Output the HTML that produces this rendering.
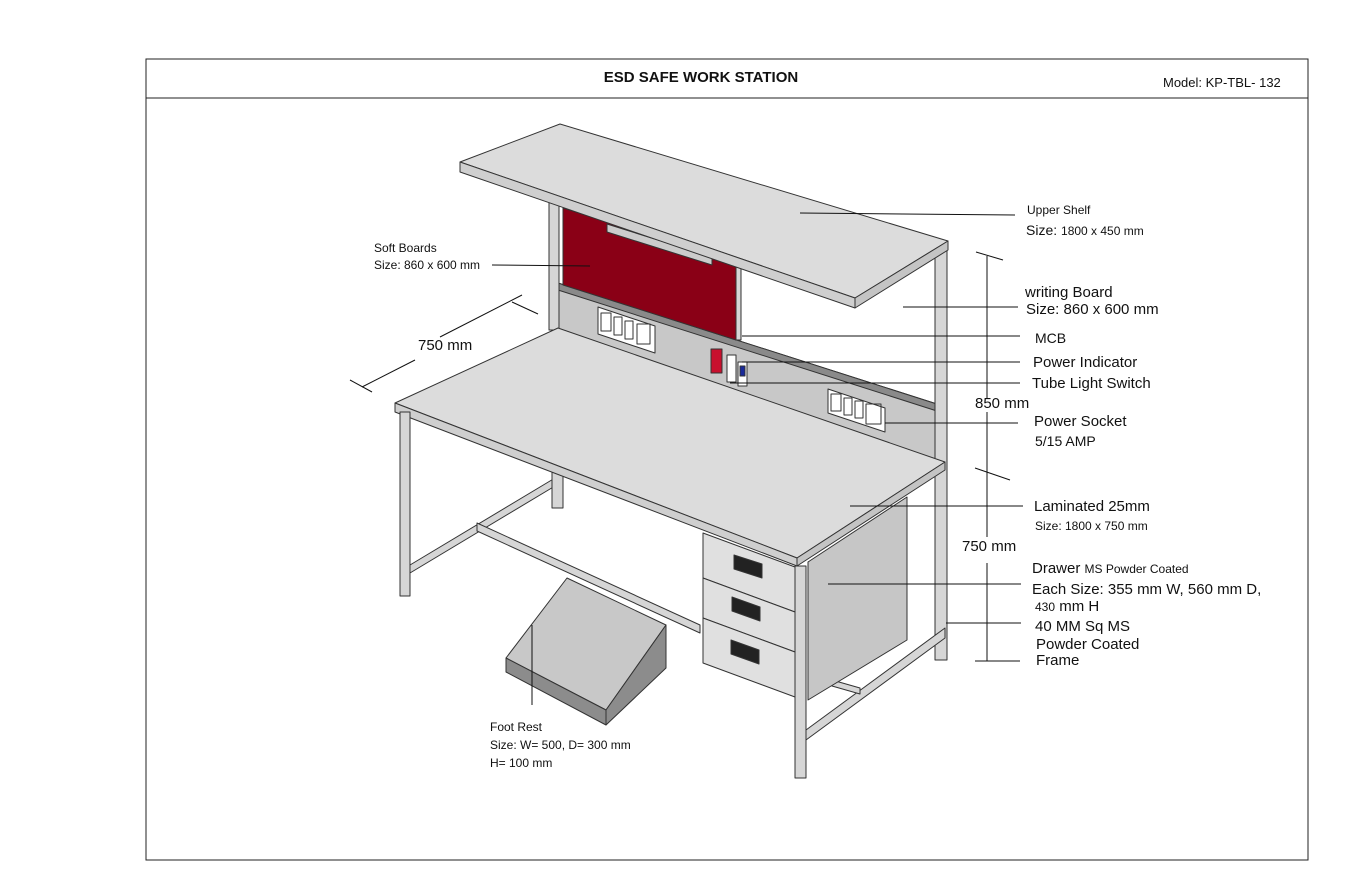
<!DOCTYPE html>
<html><head><meta charset="utf-8"><style>
html,body{margin:0;padding:0;background:#fff;}
svg{display:block;}
text{font-family:"Liberation Sans",sans-serif;fill:#111;}
</style></head><body>
<svg width="1360" height="884" viewBox="0 0 1360 884" xmlns="http://www.w3.org/2000/svg">
<rect x="146" y="59" width="1162" height="801" fill="#fff" stroke="#222" stroke-width="1"/>
<line x1="146" y1="98" x2="1308" y2="98" stroke="#222"/>
<text x="701" y="82" font-size="15" font-weight="bold" text-anchor="middle">ESD SAFE WORK STATION</text>
<text x="1163" y="87" font-size="13">Model: KP-TBL- 132</text>

<g stroke="#333" stroke-width="1" stroke-linejoin="round">
<polygon points="558,283 940,405 940,462 558,330" fill="#c8c8c8"/>
<polygon points="558,283 940,405 940,412 558,290" fill="#8a8a8a"/>
<polygon points="563,208 736,262 736,340 563,285" fill="#8a0016"/>
<polygon points="607,224 712,257 712,265 607,232" fill="#ccc"/>
<rect x="549" y="200" width="10" height="130" fill="#d6d6d6"/>
<rect x="736" y="255" width="5" height="85" fill="#d6d6d6"/>
<rect x="935" y="250" width="12" height="410" fill="#d6d6d6"/>
<polygon points="598,307 655,326 655,353 598,334" fill="#fff"/>
<polygon points="828,389 885,408 885,432 828,413" fill="#fff"/>
<g fill="none" stroke="#333">
<rect x="601" y="313" width="10" height="18"/><rect x="614" y="317" width="8" height="18"/><rect x="625" y="321" width="8" height="18"/><rect x="637" y="324" width="13" height="20"/>
<rect x="831" y="394" width="10" height="17"/><rect x="844" y="398" width="8" height="17"/><rect x="855" y="401" width="8" height="17"/><rect x="866" y="404" width="15" height="20"/>
</g>
<rect x="711" y="349" width="11" height="24" fill="#c8102e"/>
<rect x="727" y="355" width="9" height="27" fill="#fff"/>
<rect x="738" y="362" width="9" height="24" fill="#fff"/>
<rect x="740" y="366" width="5" height="10" fill="#1a2a9a"/>
<polygon points="460,162 560,124 948,241 855,298" fill="#dcdcdc"/>
<polygon points="460,162 855,298 855,308 460,172" fill="#cfcfcf"/>
<polygon points="855,298 948,241 948,250 855,308" fill="#c4c4c4"/>
<polygon points="410,565 555,478 555,486 410,573" fill="#d6d6d6"/>
<polygon points="477,523 700,625 700,633 477,531" fill="#d6d6d6"/>
<polygon points="806,730 945,628 945,638 806,740" fill="#d6d6d6"/>
<polygon points="832,680 860,688 860,694 832,686" fill="#d6d6d6"/>
<rect x="552" y="470" width="11" height="38" fill="#d6d6d6"/>
<polygon points="808,562 907,497 907,640 808,700" fill="#c6c6c6"/>
<polygon points="395,403 558,328 945,462 797,558" fill="#dcdcdc"/>
<polygon points="395,403 797,558 797,566 395,412" fill="#cfcfcf"/>
<polygon points="797,558 945,462 945,470 797,566" fill="#c4c4c4"/>
<rect x="400" y="412" width="10" height="184" fill="#d6d6d6"/>
<rect x="795" y="566" width="11" height="212" fill="#d6d6d6"/>
<polygon points="703,533 795,567 795,612 703,578" fill="#e0e0e0"/>
<polygon points="703,578 795,612 795,652 703,618" fill="#e0e0e0"/>
<polygon points="703,618 795,652 795,697 703,663" fill="#e0e0e0"/>
<polygon points="734,555 762,564 762,578 734,569" fill="#222"/>
<polygon points="732,597 760,607 760,621 732,611" fill="#222"/>
<polygon points="731,640 759,650 759,664 731,654" fill="#222"/>
<polygon points="506,658 567,578 666,625 606,710" fill="#c8c8c8"/>
<polygon points="506,658 606,710 606,725 506,672" fill="#8c8c8c"/>
<polygon points="606,710 666,625 666,668 606,725" fill="#8c8c8c"/>
</g>

<g stroke="#111" stroke-width="1" fill="none">
<line x1="800" y1="213" x2="1015" y2="215"/>
<line x1="492" y1="265" x2="590" y2="266"/>
<line x1="903" y1="307" x2="1018" y2="307"/>
<line x1="742" y1="336" x2="1020" y2="336"/>
<line x1="742" y1="362" x2="1020" y2="362"/>
<line x1="730" y1="383" x2="1020" y2="383"/>
<line x1="885" y1="423" x2="1018" y2="423"/>
<line x1="850" y1="506" x2="1023" y2="506"/>
<line x1="828" y1="584" x2="1021" y2="584"/>
<line x1="946" y1="623" x2="1021" y2="623"/>
<line x1="975" y1="661" x2="1020" y2="661"/>
<line x1="532" y1="625" x2="532" y2="705"/>
<line x1="987" y1="256" x2="987" y2="398"/>
<line x1="987" y1="412" x2="987" y2="537"/>
<line x1="987" y1="563" x2="987" y2="661"/>
<line x1="976" y1="252" x2="1003" y2="260"/>
<line x1="975" y1="468" x2="1010" y2="480"/>
<line x1="512" y1="302" x2="538" y2="314"/>
<line x1="440" y1="337" x2="522" y2="295"/>
<line x1="362" y1="387" x2="415" y2="360"/>
<line x1="350" y1="380" x2="372" y2="392"/>
</g>

<g font-size="12">
<text x="374" y="252">Soft Boards</text>
<text x="374" y="269">Size: 860 x 600 mm</text>
<text x="1027" y="214">Upper Shelf</text>
<text x="1026" y="235" font-size="14">Size: <tspan font-size="12">1800 x 450 mm</tspan></text>
<text x="1035" y="530">Size: 1800 x 750 mm</text>
<text x="490" y="731">Foot Rest</text>
<text x="490" y="749">Size: W= 500, D= 300 mm</text>
<text x="490" y="767">H= 100 mm</text>
</g>
<g font-size="15">
<text x="418" y="350">750 mm</text>
<text x="1025" y="297">writing Board</text>
<text x="1026" y="314">Size: 860 x 600 mm</text>
<text x="1035" y="343" font-size="14">MCB</text>
<text x="1033" y="367">Power Indicator</text>
<text x="1032" y="388">Tube Light Switch</text>
<text x="975" y="408">850 mm</text>
<text x="1034" y="426">Power Socket</text>
<text x="1035" y="446" font-size="14">5/15 AMP</text>
<text x="1034" y="511">Laminated 25mm</text>
<text x="962" y="551">750 mm</text>
<text x="1032" y="573">Drawer <tspan font-size="12">MS Powder Coated</tspan></text>
<text x="1032" y="594">Each Size: 355 mm W, 560 mm D,</text>
<text x="1035" y="611"><tspan font-size="12">430</tspan> mm H</text>
<text x="1035" y="631">40 MM Sq MS</text>
<text x="1036" y="649">Powder Coated</text>
<text x="1036" y="665">Frame</text>
</g>
</svg>
</body></html>
